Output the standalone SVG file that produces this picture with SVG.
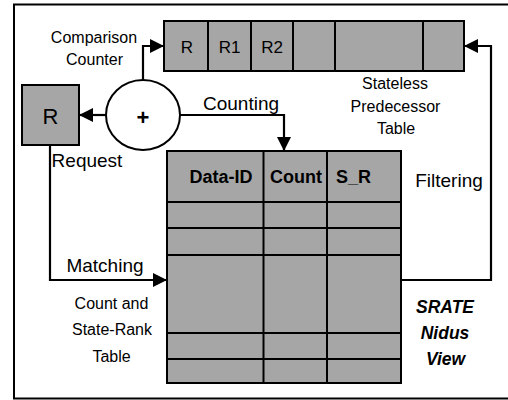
<svg xmlns="http://www.w3.org/2000/svg" width="508" height="400" viewBox="0 0 508 400">
  <defs>
    <marker id="arrow" markerWidth="14" markerHeight="14" refX="14" refY="7" orient="auto" markerUnits="userSpaceOnUse">
      <path d="M0,0 L14,7 L0,14 Z" fill="#000"/>
    </marker>
    <style>
      .cell { fill: #a6a6a6; stroke: #000; stroke-width: 2; }
      .grid { stroke: #000; stroke-width: 2; fill: none; }
      .conn { fill: none; stroke: #000; stroke-width: 2.2; marker-end: url(#arrow); }
      .lbl { font-family: "Liberation Sans", Arial, sans-serif; fill: #000; text-anchor: middle; }
      .sm { font-size: 16px; }
      .lg { font-size: 19px; }
      .hdr { font-size: 18px; font-weight: bold; }
    </style>
  </defs>

  <rect width="508" height="400" fill="#fff"/>
  <!-- outer frame (open on the right edge) -->
  <path d="M508,4.5 H14 V398.5 H508" fill="none" stroke="#000" stroke-width="2"/>

  <!-- connectors -->
  <g id="connectors">
    <path class="conn" d="M143,80 V46 H164"/>
    <path class="conn" d="M106,115 H79"/>
    <path class="conn" d="M180,115 H284 V151"/>
    <path class="conn" d="M50,145 V280 H167"/>
    <path class="conn" d="M401,280 H491 V46 H464"/>
  </g>

  <!-- stateless predecessor table -->
  <g id="stateless-table">
    <rect class="cell" x="164" y="21" width="300" height="50"/>
    <path class="grid" d="M208,21 V71 M251,21 V71 M293,21 V71 M335,21 V71 M423,21 V71"/>
    <text class="lbl" x="187" y="53" font-size="17">R</text>
    <text class="lbl" x="229.5" y="53" font-size="17">R1</text>
    <text class="lbl" x="272" y="53" font-size="17">R2</text>
    <text class="lbl sm" x="395" y="89">Stateless</text>
    <text class="lbl sm" x="395.5" y="111.5">Predecessor</text>
    <text class="lbl sm" x="396" y="133.5">Table</text>
  </g>

  <!-- comparison counter -->
  <g id="counter">
    <ellipse cx="143" cy="115" rx="37" ry="35" fill="#fff" stroke="#000" stroke-width="2"/>
    <text class="lbl" x="143" y="125" font-size="22" font-weight="bold">+</text>
    <text class="lbl sm" x="94" y="43">Comparison</text>
    <text class="lbl sm" x="94.5" y="65">Counter</text>
  </g>

  <!-- request register -->
  <g id="request">
    <rect class="cell" x="22" y="85" width="57" height="60"/>
    <text class="lbl" x="50.5" y="124" font-size="22">R</text>
    <text class="lbl lg" x="87" y="166.5">Request</text>
  </g>

  <!-- count and state-rank table -->
  <g id="rank-table">
    <rect class="cell" x="167" y="151" width="234" height="232"/>
    <path class="grid" d="M263.5,151 V383 M327,151 V383 M167,202 H401 M167,228 H401 M167,255 H401 M167,333 H401 M167,359 H401"/>
    <text class="lbl hdr" x="221" y="183">Data-ID</text>
    <text class="lbl hdr" x="296" y="183">Count</text>
    <text class="lbl hdr" x="353.5" y="183">S_R</text>
    <text class="lbl sm" x="111.5" y="309" font-size="16.5">Count and</text>
    <text class="lbl sm" x="112" y="335" font-size="16.5">State-Rank</text>
    <text class="lbl sm" x="111.5" y="361.5">Table</text>
  </g>

  <!-- connector labels -->
  <g id="labels">
    <text class="lbl lg" x="241" y="110">Counting</text>
    <text class="lbl lg" x="105" y="272">Matching</text>
    <text class="lbl lg" x="449" y="187">Filtering</text>
  </g>

  <!-- view caption -->
  <g id="caption">
    <text class="lbl" x="445" y="313" font-size="17.5" font-weight="bold" font-style="italic">SRATE</text>
    <text class="lbl" x="445" y="339" font-size="17.5" font-weight="bold" font-style="italic">Nidus</text>
    <text class="lbl" x="445.5" y="365" font-size="17.5" font-weight="bold" font-style="italic">View</text>
  </g>
</svg>
